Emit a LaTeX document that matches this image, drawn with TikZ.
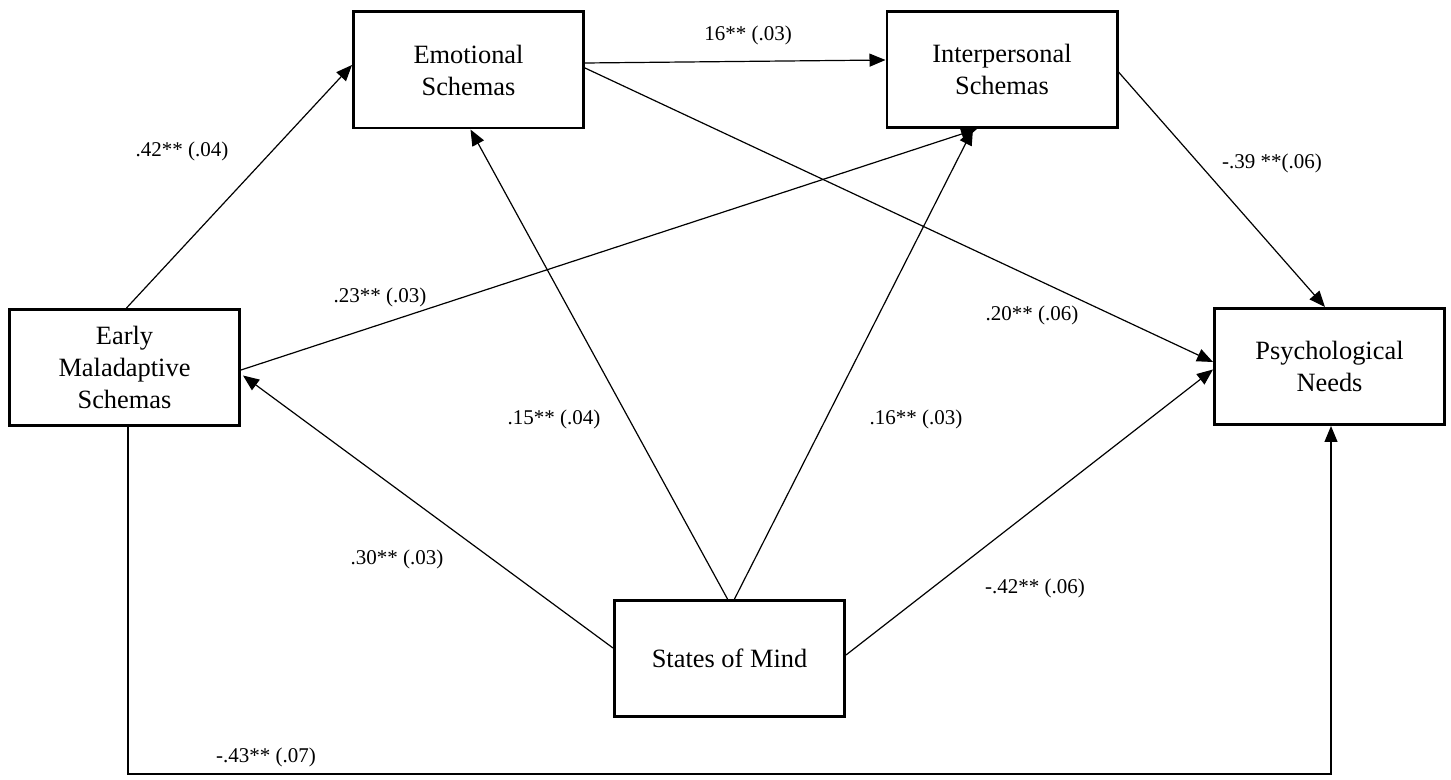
\documentclass[tikz,border=0pt]{standalone}
\usepackage{fontspec}
\setmainfont{Liberation Serif}
\usetikzlibrary{arrows.meta,calc}
\begin{document}
\begin{tikzpicture}[x=0.5pt,y=-0.5pt,
  box/.style={draw, line width=1.3pt, minimum width=115.2pt, minimum height=58.2pt,
    inner sep=0pt, align=center, font=\fontsize{13.2}{16}\selectfont},
  arr/.style={line width=0.6pt, -{Triangle[length=8pt,width=6.5pt]}},
  lbl/.style={font=\fontsize{10.5}{12}\selectfont, inner sep=0pt}]
\useasboundingbox (0,0) rectangle (1451,780);

% constructs
\node[box] (ems)   at (124.5,367.5) {Early\\Maladaptive\\Schemas};
\node[box] (emo)   at (468.5,70)    {Emotional\\Schemas};
\node[box] (inter) at (1002,69.5)   {Interpersonal\\Schemas};
\node[box] (psy)   at (1329.5,366.5){Psychological\\Needs};
\node[box] (som)   at (729.5,658.5) {States of Mind};

% paths
\draw[arr] ($(ems.north)+(2,0)$) -- ($(emo.west)+(0,-5)$);
\draw[arr] ($(emo.east)+(0,-7)$) -- ($(inter.west)+(0,-9.5)$);
\draw[arr] ($(emo.east)+(0,-2)$) -- ($(psy.west)+(0,-4.5)$);
\draw[arr] ($(inter.east)+(0,2.5)$) -- ($(psy.north)+(-4.5,0)$);
\draw[arr] ($(ems.east)+(0,2.5)$) -- ($(inter.south)+(-25,0)$);
\draw[arr] ($(som.west)+(0,-10.5)$) -- ($(ems.east)+(2,8)$);
\draw[arr] ($(som.north)+(-2,0)$) -- ($(emo.south)+(2,0)$);
\draw[arr] ($(som.north)+(5,0)$) -- ($(inter.south)+(-29,0)$);
\draw[arr] ($(som.east)+(0,-3.5)$) -- ($(psy.west)+(0,3)$);
\coordinate (corner) at (1331,774);
\draw[arr] ($(ems.south)+(3.5,0)$) |- (corner) -| ($(psy.south)+(1.5,0)$);

% coefficients
\node[lbl] (l1)  at (182,151)  {.42** (.04)};
\node[lbl] (l2)  at (748,35)   {16** (.03)};
\node[lbl] (l3)  at (1272,163) {-.39 **(.06)};
\node[lbl] (l4)  at (380,297)  {.23** (.03)};
\node[lbl] (l5)  at (1032,315) {.20** (.06)};
\node[lbl] (l6)  at (554,419)  {.15** (.04)};
\node[lbl] (l7)  at (916,419)  {.16** (.03)};
\node[lbl] (l8)  at (397,559)  {.30** (.03)};
\node[lbl] (l9)  at (1035,588) {-.42** (.06)};
\node[lbl] (l10) at (266,757)  {-.43** (.07)};
\end{tikzpicture}
\end{document}
